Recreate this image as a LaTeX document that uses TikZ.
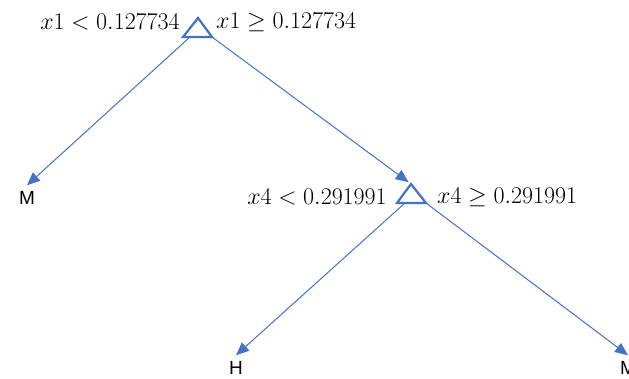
\RequirePackage{fix-cm}
\documentclass[tikz,border=0pt]{standalone}
\usepackage{fontspec}
\newfontfamily\leaffont{Liberation Sans}
\usetikzlibrary{arrows.meta}
\definecolor{treeblue}{HTML}{4472C4}
\tikzset{
  branch/.style={draw=treeblue, line width=1pt, -{Triangle[length=13pt,width=11pt]}},
  split/.style={draw=treeblue, line width=2.2pt, line join=miter},
  cond/.style={font=\fontsize{24}{28}\selectfont, inner sep=0pt},
  leaf/.style={font=\leaffont\fontsize{19}{23}\selectfont, inner xsep=0pt, inner ysep=6pt},
}
\begin{document}
\begin{tikzpicture}[x=1pt,y=-1pt]
  \useasboundingbox (0,0) rectangle (629,379);
  % splits
  \coordinate (s1) at (198,18);
  \draw[split] (s1) -- ++(14,19) coordinate (s1r) -- ++(-22,0) coordinate (s1b) -- ++(-7,0) -- cycle;
  \coordinate (s2) at (411,184);
  \draw[split] (s2) -- ++(15,19) coordinate (s2r) -- ++(-21,0) coordinate (s2b) -- ++(-8,0) -- cycle;
  \node[cond, anchor=east] (c1l) at (180,22) {$x1 < 0.127734$};
  \node[cond, anchor=west] (c1r) at (216,22) {$x1 \geq 0.127734$};
  \node[cond, anchor=east] (c2l) at (387,197) {$x4 < 0.291991$};
  \node[cond, anchor=west] (c2r) at (437,197) {$x4 \geq 0.291991$};
  % leaves
  \node[leaf] (m1) at (27,198) {M};
  \node[leaf] (h) at (236,368) {H};
  \node[leaf] (m2) at (628,368) {M};
  \draw[branch] (s1b) -- (m1.north);
  \draw[branch, shorten >=3pt] (s1r) -- (s2);
  \draw[branch] (s2b) -- (h.north);
  \draw[branch] (s2r) -- (m2.north);
\end{tikzpicture}
\end{document}
